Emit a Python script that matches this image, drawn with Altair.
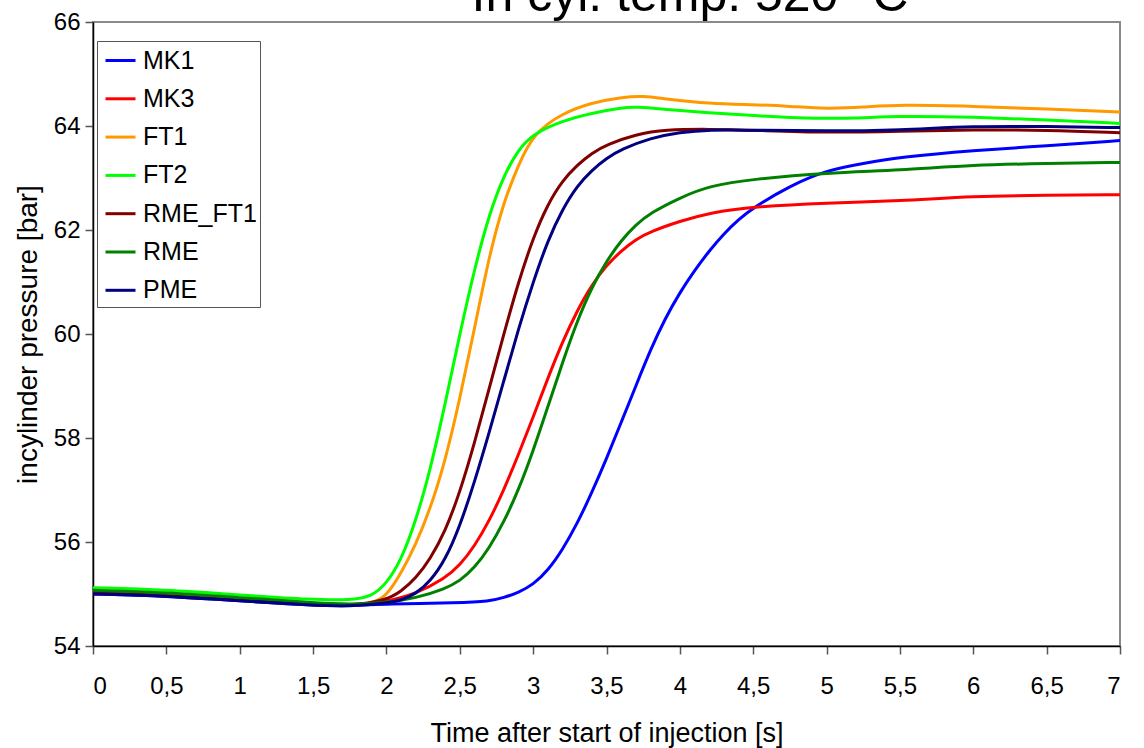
import altair as alt
import pandas as pd

# ---- data ----
series_names = ["MK1", "MK3", "FT1", "FT2", "RME_FT1", "RME", "PME"]
series_colors = ["#0000FF", "#FF0000", "#FF9900", "#00FF00", "#800000", "#008000", "#000080"]

MK1_x = [0, 0.5, 1.0, 1.5, 1.75, 2.0, 2.5, 2.7, 2.8, 2.9, 3.0, 3.1, 3.2, 3.3, 3.4, 3.5, 3.6, 3.7,
         3.8, 3.9, 4.0, 4.1, 4.2, 4.3, 4.4, 4.5, 4.75, 5.0, 5.25, 5.5, 6.0, 6.5, 7.0]
MK1_y = [55.0, 54.96, 54.87, 54.78, 54.77, 54.81, 54.83, 54.86, 54.93, 55.03, 55.18, 55.45, 55.85,
         56.35, 56.95, 57.6, 58.3, 59.0, 59.7, 60.3, 60.8, 61.22, 61.6, 61.93, 62.2, 62.43,
         62.85, 63.15, 63.28, 63.4, 63.53, 63.62, 63.72]

MK3_x = [0, 0.5, 1.0, 1.5, 1.75, 2.0, 2.2, 2.4, 2.5, 2.6, 2.7, 2.8, 2.9, 3.0, 3.1, 3.2, 3.3, 3.4,
         3.5, 3.6, 3.7, 3.8, 4.0, 4.2, 4.5, 5.0, 5.5, 6.0, 6.5, 7.0]
MK3_y = [55.03, 54.98, 54.88, 54.79, 54.77, 54.85, 55.0, 55.3, 55.55, 55.92, 56.4, 57.0, 57.68,
         58.4, 59.15, 59.85, 60.45, 60.95, 61.32, 61.6, 61.82, 61.97, 62.17, 62.33, 62.45, 62.52,
         62.56, 62.65, 62.67, 62.68]

FT1_x = [0, 0.5, 1.0, 1.5, 1.75, 1.9, 2.0, 2.1, 2.2, 2.3, 2.4, 2.5, 2.6, 2.7, 2.8, 2.9, 3.0, 3.2,
         3.4, 3.6, 3.75, 3.9, 4.2, 4.5, 4.75, 5.0, 5.25, 5.5, 6.0, 6.5, 7.0]
FT1_y = [55.05, 55.0, 54.9, 54.8, 54.77, 54.82, 54.95, 55.4, 55.95, 56.65, 57.55, 58.75, 60.1,
         61.5, 62.55, 63.25, 63.85, 64.25, 64.45, 64.55, 64.58, 64.52, 64.43, 64.41, 64.38,
         64.33, 64.36, 64.41, 64.38, 64.33, 64.27]

FT2_x = [0, 0.5, 1.0, 1.5, 1.75, 1.9, 2.0, 2.1, 2.2, 2.3, 2.4, 2.5, 2.6, 2.7, 2.8, 2.9, 3.0, 3.2,
         3.4, 3.6, 3.7, 3.9, 4.2, 4.5, 5.0, 5.5, 6.0, 6.5, 7.0]
FT2_y = [55.12, 55.08, 54.98, 54.89, 54.88, 54.95, 55.2, 55.65, 56.4, 57.4, 58.65, 60.0, 61.25,
         62.3, 63.05, 63.55, 63.85, 64.1, 64.25, 64.35, 64.37, 64.32, 64.25, 64.2, 64.12, 64.2,
         64.17, 64.12, 64.05]

RME_FT1_x = [0, 0.5, 1.0, 1.5, 1.75, 2.0, 2.1, 2.2, 2.3, 2.4, 2.5, 2.6, 2.7, 2.8, 2.9, 3.0, 3.1,
             3.2, 3.3, 3.4, 3.5, 3.7, 3.9, 4.2, 4.5, 5.0, 5.5, 6.0, 6.5, 7.0]
RME_FT1_y = [55.03, 54.98, 54.88, 54.8, 54.77, 54.88, 55.05, 55.3, 55.68, 56.2, 56.95, 57.9,
             58.95, 60.0, 61.0, 61.85, 62.5, 62.95, 63.25, 63.48, 63.64, 63.84, 63.93, 63.94,
             63.92, 63.87, 63.9, 63.93, 63.92, 63.87]

RME_x = [0, 0.5, 1.0, 1.5, 1.75, 2.0, 2.2, 2.4, 2.5, 2.6, 2.7, 2.8, 2.9, 3.0, 3.1, 3.2, 3.3, 3.4,
         3.5, 3.6, 3.7, 3.8, 4.0, 4.2, 4.5, 5.0, 5.5, 6.0, 6.5, 7.0]
RME_y = [55.07, 55.03, 54.93, 54.83, 54.8, 54.83, 54.92, 55.1, 55.25, 55.5, 55.88, 56.38, 57.0,
         57.75, 58.6, 59.45, 60.25, 60.9, 61.4, 61.8, 62.1, 62.33, 62.62, 62.85, 62.98, 63.1,
         63.15, 63.25, 63.28, 63.3]

PME_x = [0, 0.5, 1.0, 1.5, 1.75, 2.0, 2.1, 2.2, 2.3, 2.4, 2.5, 2.6, 2.7, 2.8, 2.9, 3.0, 3.1, 3.2,
         3.3, 3.4, 3.5, 3.6, 3.8, 4.0, 4.2, 4.5, 5.0, 5.5, 6.0, 6.5, 7.0]
PME_y = [55.0, 54.96, 54.87, 54.78, 54.76, 54.82, 54.88, 55.0, 55.25, 55.65, 56.3, 57.15, 58.1,
         59.1, 60.1, 61.0, 61.8, 62.4, 62.85, 63.15, 63.38, 63.55, 63.77, 63.88, 63.93, 63.92,
         63.9, 63.92, 64.0, 63.99, 63.97]

x_ticks = [0, 0.5, 1, 1.5, 2, 2.5, 3, 3.5, 4, 4.5, 5, 5.5, 6, 6.5, 7]
y_ticks = [54, 56, 58, 60, 62, 64, 66]
title_text = ["In cyl. temp. 520 °C"]

# ---- build table ----
xs = [MK1_x, MK3_x, FT1_x, FT2_x, RME_FT1_x, RME_x, PME_x]
ys = [MK1_y, MK3_y, FT1_y, FT2_y, RME_FT1_y, RME_y, PME_y]
rows = []
for i, (name, xl, yl) in enumerate(zip(series_names, xs, ys)):
    for xv, yv in zip(xl, yl):
        rows.append({"series": name, "order": i, "t": xv, "p": yv})
df = pd.DataFrame(rows)

FONT = "Liberation Sans"
W, H = 1027, 624

lines = alt.Chart(df).mark_line(interpolate="basis", strokeWidth=3, clip=True).encode(
    x=alt.X("t:Q",
            scale=alt.Scale(domain=[0, 7], nice=False, zero=False),
            axis=alt.Axis(values=x_ticks, title="Time after start of injection [s]",
                          labelExpr="replace(toString(datum.value), '.', ',')",
                          grid=False, tickSize=8, labelPadding=20,
                          labelFont=FONT, labelFontSize=24, labelColor="black",
                          titleFont=FONT, titleFontSize=27, titleFontWeight="normal",
                          titleColor="black",
                          domainColor="black", domainWidth=1.5,
                          tickColor="#555555", tickWidth=1.5,
                          titleX=W / 2, titleY=87, titleBaseline="middle",
                          titleAlign="center")),
    y=alt.Y("p:Q",
            scale=alt.Scale(domain=[54, 66], nice=False, zero=False),
            axis=alt.Axis(values=y_ticks, title="incylinder pressure [bar]",
                          grid=False, tickSize=8, labelPadding=5,
                          labelFont=FONT, labelFontSize=24, labelColor="black",
                          titleFont=FONT, titleFontSize=28, titleFontWeight="normal",
                          titleColor="black",
                          domainColor="black", domainWidth=1.5,
                          tickColor="#555555", tickWidth=1.5,
                          titleX=-65, titleY=H / 2, titleAngle=270,
                          titleBaseline="middle", titleAlign="center")),
    color=alt.Color("series:N",
                    scale=alt.Scale(domain=series_names, range=series_colors),
                    legend=alt.Legend(title=None, orient="none", legendX=4, legendY=19,
                                      symbolType="stroke", symbolStrokeWidth=3,
                                      symbolSize=900, symbolOffset=4,
                                      labelFontSize=25, labelFont=FONT,
                                      labelColor="black", rowPadding=8.3,
                                      labelOffset=6, padding=3,
                                      fillColor="white", strokeColor="#555555")),
    order=alt.Order("order:Q"),
    detail="series:N",
)

title = alt.Chart(pd.DataFrame({"txt": title_text})).mark_text(
    fontSize=50, font=FONT, align="center", baseline="alphabetic", color="black"
).encode(text="txt:N", x=alt.value(597), y=alt.value(-11))

chart = alt.layer(lines, title).properties(
    width=W, height=H,
    background="white",
    autosize=alt.AutoSizeParams(type="none"),
    padding={"left": 93, "top": 22, "right": 24, "bottom": 102},
).configure_view(
    stroke="#8a8a8a", strokeWidth=2
)

chart.save("out.html", embed_options={"renderer": "svg", "actions": False})
